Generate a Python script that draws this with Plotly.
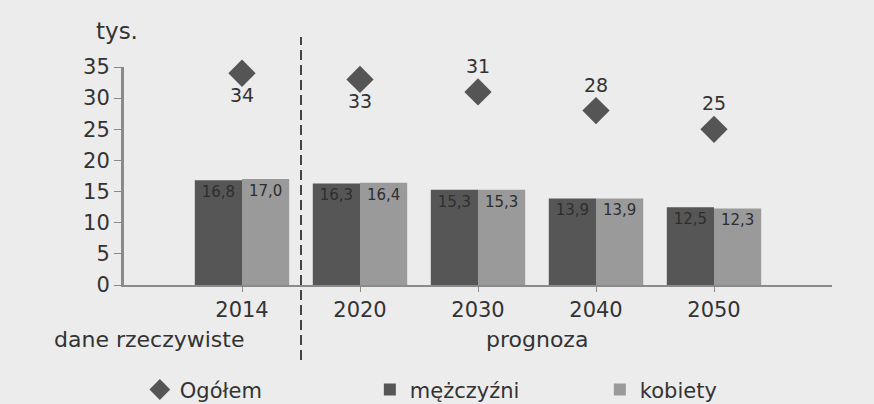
import plotly.graph_objects as go

years = ["2014", "2020", "2030", "2040", "2050"]
ogolem = [34, 33, 31, 28, 25]
mezczyzni = [16.8, 16.3, 15.3, 13.9, 12.5]
kobiety = [17.0, 16.4, 15.3, 13.9, 12.3]
ogolem_text_pos = ["bottom center", "bottom center", "top center", "top center", "top center"]

xs = list(range(len(years)))
FONT = "DejaVu Sans, Liberation Sans, Arial, sans-serif"
BG = "#ececec"
TXT = "#333333"

def fmt(v):
    return f"{v:.1f}".replace(".", ",")

fig = go.Figure()
fig.add_trace(go.Scatter(
    x=xs, y=ogolem, name="Ogółem", mode="markers+text",
    marker=dict(symbol="diamond", size=21, color="#555555"),
    text=[str(v) for v in ogolem], textposition=ogolem_text_pos,
    textfont=dict(family=FONT, size=19, color=TXT),
    cliponaxis=False,
))
fig.add_trace(go.Bar(
    x=xs, y=mezczyzni, name="mężczyźni", marker=dict(color="#565656", line=dict(width=0)),
    text=[fmt(v) for v in mezczyzni], textposition="inside", insidetextanchor="end",
    textfont=dict(family=FONT, size=15, color="#2e2e2e"), textangle=0,
))
fig.add_trace(go.Bar(
    x=xs, y=kobiety, name="kobiety", marker=dict(color="#9a9a9a", line=dict(width=0)),
    text=[fmt(v) for v in kobiety], textposition="inside", insidetextanchor="end",
    textfont=dict(family=FONT, size=15, color="#2e2e2e"), textangle=0,
))

fig.update_layout(
    width=874, height=404,
    margin=dict(l=124, r=42, t=67, b=119, autoexpand=False),
    paper_bgcolor=BG, plot_bgcolor=BG,
    barmode="group", bargap=0.2, bargroupgap=0,
    font=dict(family=FONT, size=21, color=TXT),
    showlegend=True,
    legend=dict(orientation="h", x=0.16, y=0.035, xref="container", yref="container",
                xanchor="left", yanchor="middle",
                font=dict(family=FONT, size=21, color=TXT),
                bgcolor="rgba(0,0,0,0)", entrywidth=185, traceorder="normal"),
    uniformtext=dict(minsize=10, mode="show"),
)
fig.update_xaxes(
    range=[-1, 5], tickvals=xs, ticktext=years, showgrid=False, zeroline=False,
    showline=True, linecolor="#8a8a8a", linewidth=2,
    ticks="outside", ticklen=5, tickcolor="#8a8a8a", tickwidth=1,
    ticklabelstandoff=0,
    tickfont=dict(family=FONT, size=21, color=TXT),
)
fig.update_yaxes(
    range=[0, 35], dtick=5, showgrid=False, zeroline=False,
    showline=True, linecolor="#8a8a8a", linewidth=3,
    ticks="outside", ticklen=7, tickcolor="#8a8a8a", tickwidth=1,
    tickfont=dict(family=FONT, size=21, color=TXT),
)

fig.add_shape(type="line", xref="x", yref="paper", x0=0.5, x1=0.5, y0=-0.344, y1=1.138,
              line=dict(color="#444444", width=2, dash="10px,5px"))
fig.add_annotation(text="tys.", xref="paper", yref="paper", x=0.023, y=1.165,
                   xanchor="right", yanchor="middle", showarrow=False,
                   font=dict(family=FONT, size=23, color=TXT))
fig.add_annotation(text="dane rzeczywiste", xref="x", yref="paper", x=-0.79, y=-0.25,
                   xanchor="center", yanchor="middle", showarrow=False,
                   font=dict(family=FONT, size=22, color=TXT))
fig.add_annotation(text="prognoza", xref="x", yref="paper", x=2.5, y=-0.25,
                   xanchor="center", yanchor="middle", showarrow=False,
                   font=dict(family=FONT, size=22, color=TXT))

fig.write_html("out.html", config={"displayModeBar": False},
               post_script="document.body.style.margin='0';")
